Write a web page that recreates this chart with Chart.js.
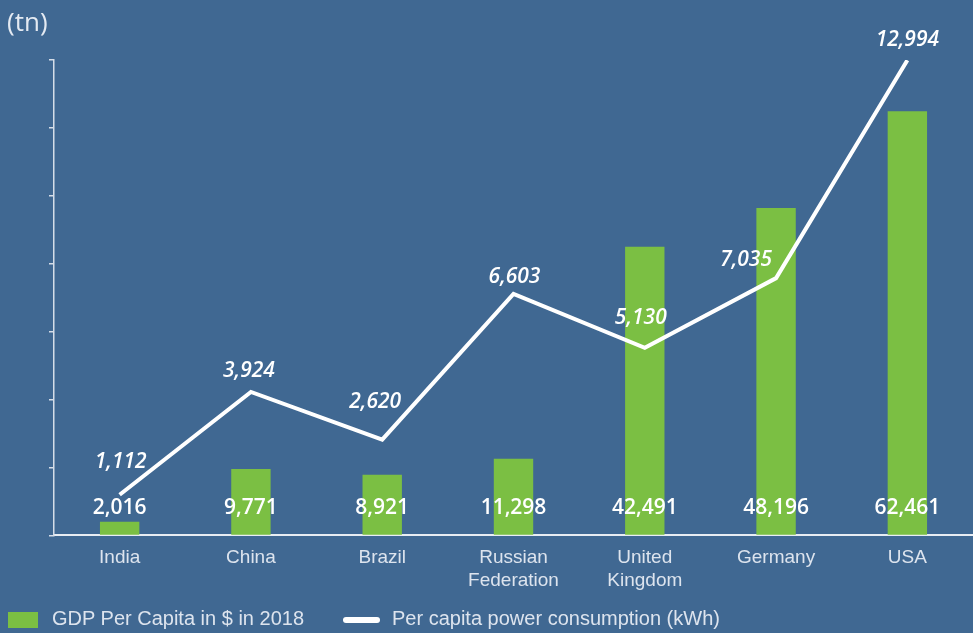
<!DOCTYPE html>
<html>
<head>
<meta charset="utf-8">
<script src="https://cdn.jsdelivr.net/npm/chart.js@4.4.1/dist/chart.umd.min.js"></script>
<style>
  html, body { margin: 0; padding: 0; background: #406892; }
  #wrap { position: relative; width: 973px; height: 633px; overflow: hidden; }
  #chart { position: absolute; left: 0; top: 0; }
  .unit { position: absolute; left: 7px; top: 3px; color: #e4eaf2; font: 26px "Open Sans", sans-serif; }
  .legend { position: absolute; top: 607px; color: #dde4ee; font: 20px "Liberation Sans", Arial, sans-serif; }
  .legend span { display: inline-block; vertical-align: middle; }
</style>
</head>
<body>
<div id="wrap">
  <canvas id="chart" width="973" height="633"></canvas>
  <div class="unit">(tn)</div>
  <div class="legend" style="left:8px"><span style="width:30px;height:16px;background:#7bbf43;margin-right:14px"></span>GDP Per Capita in $ in 2018</div>
  <div class="legend" style="left:343px"><span style="width:37px;height:6px;border-radius:3px;background:#fff;margin-right:12px"></span>Per capita power consumption (kWh)</div>
</div>
<script>
const countries = ['India', 'China', 'Brazil', ['Russian', 'Federation'], ['United', 'Kingdom'], 'Germany', 'USA'];
const gdpPerCapita = [2016, 9771, 8921, 11298, 42491, 48196, 62461];
const powerPerCapita = [1112, 3924, 2620, 6603, 5130, 7035, 12994];

// label offsets for the line values (dx, dy from the point)
const lineLabelShift = [[1, -33], [-2, -21], [-7, -38], [1, -17], [-4, -30], [-30, -18], [0, -20]];

const ctx = document.getElementById('chart');

const valueLabels = {
  id: 'valueLabels',
  afterDatasetsDraw(chart) {
    const c = chart.ctx;
    const yAxis = chart.scales.y;
    c.save();
    c.fillStyle = '#ffffff';
    c.textAlign = 'center';
    c.textBaseline = 'middle';
    c.font = '600 21px "Open Sans", sans-serif';
    chart.getDatasetMeta(0).data.forEach((bar, i) => {
      c.fillText(gdpPerCapita[i].toLocaleString('en-US'), bar.x, yAxis.bottom - 27);
    });
    c.font = 'italic 600 21px "Open Sans", sans-serif';
    chart.getDatasetMeta(1).data.forEach((pt, i) => {
      const s = lineLabelShift[i];
      c.fillText(powerPerCapita[i].toLocaleString('en-US'), pt.x + s[0], pt.y + s[1]);
    });
    c.restore();
  }
};

new Chart(ctx, {
  data: {
    labels: countries,
    datasets: [
      {
        type: 'bar',
        label: 'GDP Per Capita in $ in 2018',
        data: gdpPerCapita,
        backgroundColor: '#7bbf43',
        barPercentage: 0.3,
        categoryPercentage: 1,
        yAxisID: 'y',
        order: 2
      },
      {
        type: 'line',
        label: 'Per capita power consumption (kWh)',
        data: powerPerCapita,
        borderColor: '#ffffff',
        borderWidth: 4,
        pointRadius: 0,
        tension: 0,
        yAxisID: 'y2',
        order: 1
      }
    ]
  },
  options: {
    responsive: false,
    animation: false,
    layout: { padding: { left: 49, right: 0, top: 60, bottom: 30 } },
    plugins: {
      legend: { display: false },
      tooltip: { enabled: false }
    },
    scales: {
      x: {
        grid: { display: false, drawTicks: false },
        border: { color: '#e8edf3', width: 2 },
        ticks: { color: '#dde4ee', font: { family: '"Liberation Sans", Arial, sans-serif', size: 19 }, padding: 11 }
      },
      y: {
        position: 'left',
        min: 0,
        max: 70000,
        ticks: { stepSize: 10000, display: false },
        grid: { drawOnChartArea: false, drawTicks: true, tickLength: 5, color: '#d5dde8', lineWidth: 1.5 },
        border: { color: '#d5dde8', width: 1.5 }
      },
      y2: {
        display: false,
        min: 0,
        max: 13000
      }
    }
  },
  plugins: [valueLabels]
});
</script>
</body>
</html>
